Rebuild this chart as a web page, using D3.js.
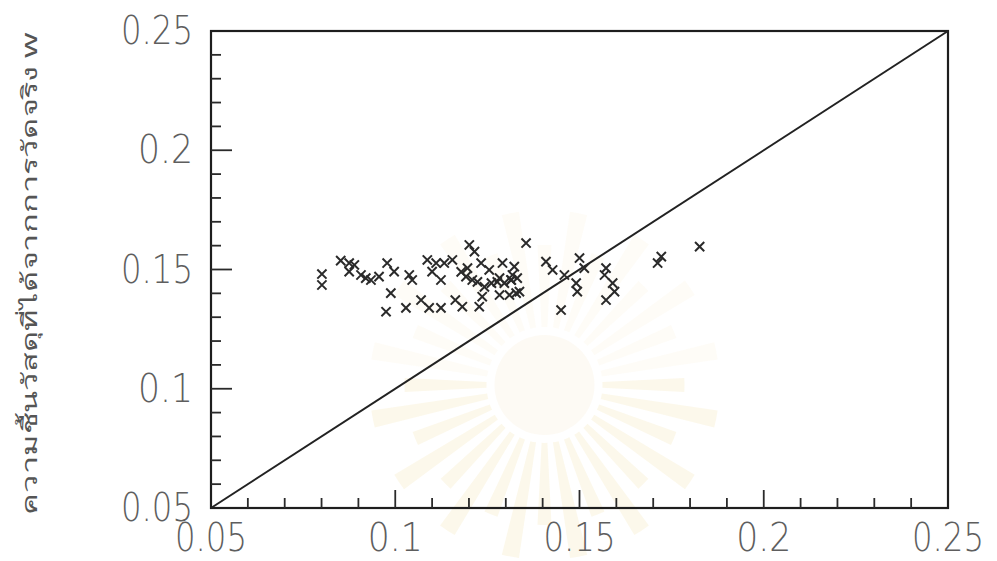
<!DOCTYPE html>
<html>
<head>
<meta charset="utf-8">
<script src="https://cdn.jsdelivr.net/npm/d3@7"></script>
<style>
  body { margin: 0; background: #fff; }
  svg { display: block; }
</style>
</head>
<body>
<script>
let xVals = [0.0801,0.0801,0.0852,0.0875,0.0889,0.0875,0.0907,0.0920,0.0934,0.0956,0.0978,0.0997,0.1038,0.1046,
  0.0988,0.0975,0.1029,0.1070,0.1092,0.1124,0.1087,0.1111,0.1133,0.1155,0.1100,0.1124,0.1201,0.1215,0.1192,0.1209,
  0.1233,0.1255,0.1291,0.1283,0.1318,0.1182,0.1228,0.1236,0.1283,0.1310,0.1337,0.1355,0.1179,0.1196,0.1223,0.1242,
  0.1261,0.1277,0.1296,0.1315,0.1331,0.1163,0.1323,0.1409,0.1427,0.1459,0.1500,0.1513,0.1491,0.1494,0.1450,0.1572,
  0.1568,0.1590,0.1595,0.1572,0.1722,0.1712,0.1826,0.1328,0.1314];
let yVals = [0.1481,0.1435,0.1537,0.1527,0.1519,0.1491,0.1477,0.1464,0.1456,0.1470,0.1527,0.1491,0.1477,0.1456,
  0.1401,0.1323,0.1339,0.1372,0.1339,0.1339,0.1540,0.1527,0.1527,0.1540,0.1491,0.1456,0.1603,0.1575,0.1470,0.1456,
  0.1527,0.1498,0.1527,0.1464,0.1477,0.1344,0.1344,0.1386,0.1393,0.1393,0.1407,0.1611,0.1490,0.1506,0.1448,0.1427,
  0.1443,0.1448,0.1443,0.1456,0.1464,0.1372,0.1512,0.1533,0.1498,0.1477,0.1548,0.1506,0.1443,0.1407,0.1330,0.1506,
  0.1477,0.1443,0.1407,0.1372,0.1554,0.1527,0.1596,0.1401,0.1456];
let majorTicks = [0.05, 0.1, 0.15, 0.2, 0.25];
let tickLabels = ["0.05", "0.1", "0.15", "0.2", "0.25"];
let minorTicks = d3.range(6, 25).map(d => d / 100).filter(d => d % 0.05 > 0.001 && d % 0.05 < 0.049);
let yTitle = "ความชื้นวัสดุที่ได้จากการวัดจริง  w";

let width = 997;
let height = 561;
let margin = {top: 31, right: 49, bottom: 53, left: 211};

let x = d3.scaleLinear()
          .domain([0.05, 0.25])
          .range([margin.left, width - margin.right]);
let y = d3.scaleLinear()
          .domain([0.05, 0.25])
          .range([height - margin.bottom, margin.top]);

let svg = d3.select("body")
            .append("svg")
            .attr("width", width)
            .attr("height", height);

// faint watermark of the scan (sunburst behind the plot)
let wm = svg.append("g")
            .attr("transform", `translate(${x(0.1405)},${y(0.1016)})`);
let rays = d3.range(32);
wm.selectAll(".ray")
  .data(rays)
  .enter().append("path")
          .attr("class", "ray")
          .attr("d", d3.arc()
                       .innerRadius(58)
                       .outerRadius(d => 140 + (d % 2) * 35)
                       .startAngle(d => d * 2 * Math.PI / 32 - 0.05)
                       .endAngle(d => d * 2 * Math.PI / 32 + 0.05))
          .attr("fill", "#f5ebc6")
          .attr("opacity", d => (d > 7 && d < 25) ? 0.35 : 0.15);
wm.append("circle")
  .attr("r", 50)
  .attr("fill", "#fcf6ec")
  .attr("opacity", 0.6);

// frame
svg.append("rect")
   .attr("x", x(0.05))
   .attr("y", y(0.25))
   .attr("width", x(0.25) - x(0.05))
   .attr("height", y(0.05) - y(0.25))
   .attr("fill", "none")
   .attr("stroke", "#1e1e1e")
   .attr("stroke-width", 2.2);

// inward ticks
let tickStroke = "#2a2a2a";
svg.selectAll(".ytick")
   .data(majorTicks.slice(1, 4).concat(minorTicks))
   .enter().append("line")
           .attr("x1", x(0.05))
           .attr("x2", d => x(0.05) + (majorTicks.some(m => Math.abs(m - d) < 1e-6) ? 21 : 10))
           .attr("y1", d => y(d))
           .attr("y2", d => y(d))
           .attr("stroke", tickStroke)
           .attr("stroke-width", 1.8);
svg.selectAll(".xtick")
   .data(majorTicks.slice(1, 4).concat(minorTicks))
   .enter().append("line")
           .attr("x1", d => x(d))
           .attr("x2", d => x(d))
           .attr("y1", y(0.05))
           .attr("y2", d => y(0.05) - (majorTicks.some(m => Math.abs(m - d) < 1e-6) ? 18 : 10))
           .attr("stroke", tickStroke)
           .attr("stroke-width", 1.8);

// tick labels
let labelFont = "'DejaVu Sans', sans-serif";
svg.selectAll(".xlabel")
   .data(majorTicks)
   .enter().append("text")
           .attr("x", d => x(d))
           .attr("y", height - 10)
           .attr("text-anchor", "middle")
           .attr("font-family", labelFont)
           .attr("font-weight", 200)
           .attr("font-size", 39)
           .attr("fill", "#5e5e5e")
           .attr("textLength", (d, i) => tickLabels[i].length === 3 ? 55 : 72)
           .attr("lengthAdjust", "spacingAndGlyphs")
           .text((d, i) => tickLabels[i]);
svg.selectAll(".ylabel")
   .data(majorTicks)
   .enter().append("text")
           .attr("x", x(0.05) - 18)
           .attr("y", d => y(d) + 13)
           .attr("text-anchor", "end")
           .attr("font-family", labelFont)
           .attr("font-weight", 200)
           .attr("font-size", 39)
           .attr("fill", "#5e5e5e")
           .attr("textLength", (d, i) => tickLabels[i].length === 3 ? 55 : 72)
           .attr("lengthAdjust", "spacingAndGlyphs")
           .text((d, i) => tickLabels[i]);

// y = x line
svg.append("line")
   .attr("x1", x(0.05))
   .attr("y1", y(0.05))
   .attr("x2", x(0.25))
   .attr("y2", y(0.25))
   .attr("stroke", "#222")
   .attr("stroke-width", 2);

// x markers
let pts = xVals.map((v, i) => ({x: v, y: yVals[i]}));
let s = 4.6;
svg.selectAll(".pt")
   .data(pts)
   .enter().append("path")
           .attr("class", "pt")
           .attr("transform", d => `translate(${x(d.x)},${y(d.y)})`)
           .attr("d", `M${-s},${-s}L${s},${s}M${-s},${s}L${s},${-s}`)
           .attr("stroke", "#2a2a2a")
           .attr("stroke-width", 2)
           .attr("fill", "none");

// y axis title
svg.append("text")
   .attr("transform", `translate(37,${y(0.15) + 4}) rotate(-90)`)
   .attr("text-anchor", "middle")
   .attr("font-family", "'Noto Sans', 'DejaVu Sans', sans-serif")
   .attr("font-size", 21)
   .attr("fill", "#555")
   .attr("textLength", 482)
   .attr("lengthAdjust", "spacingAndGlyphs")
   .text(yTitle);
</script>
</body>
</html>
